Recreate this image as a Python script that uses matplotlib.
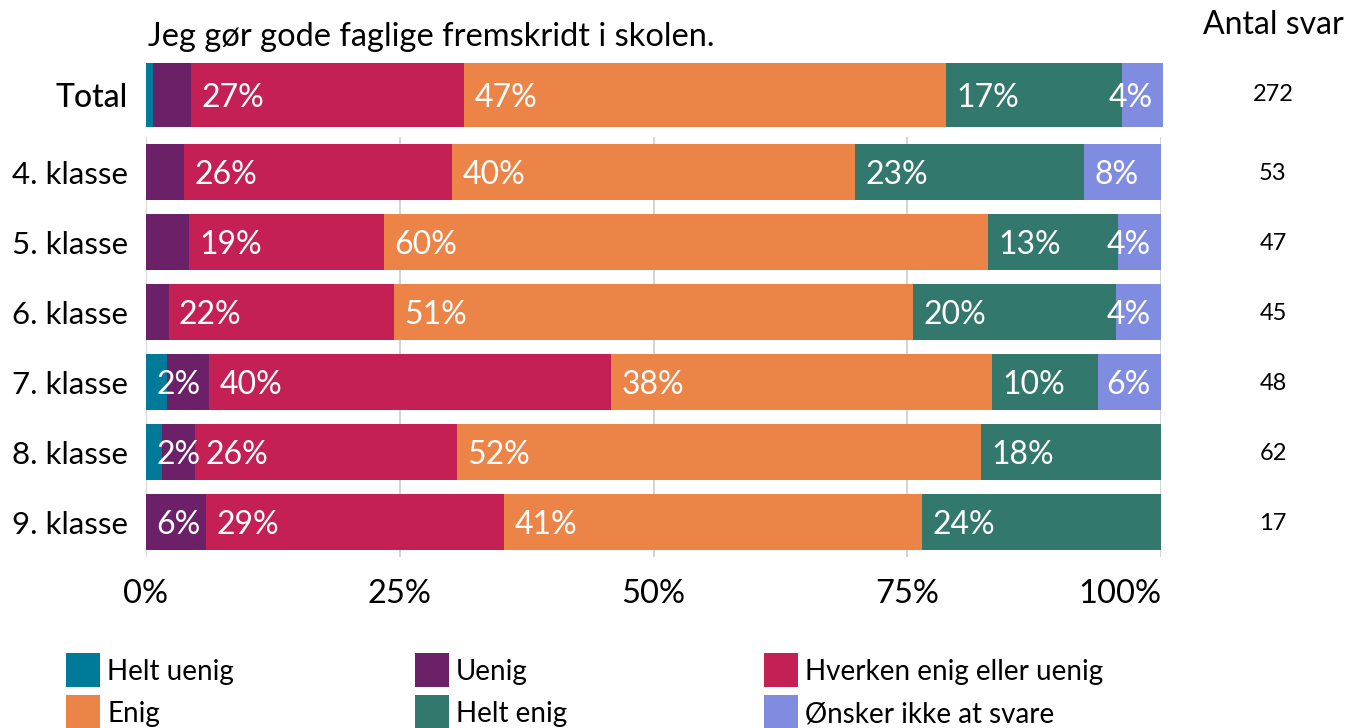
import numpy as np
import matplotlib
matplotlib.use("Agg")
import matplotlib.pyplot as plt
import matplotlib.transforms as mtransforms
from matplotlib.patches import Rectangle

plt.rcParams["font.family"] = ["Lato", "DejaVu Sans"]

# --- data -------------------------------------------------------------
title = "Jeg gør gode faglige fremskridt i skolen."
classes = ["4. klasse", "5. klasse", "6. klasse", "7. klasse", "8. klasse", "9. klasse"]
responses = ["Helt uenig", "Uenig", "Hverken enig eller uenig",
             "Enig", "Helt enig", "Ønsker ikke at svare"]
colors = ["#007A99", "#6B2067", "#C42054", "#EB8446", "#33786C", "#7F8CE0"]

# number of answers per class for each response option
helt_uenig = [0, 0, 0, 1, 1, 0]
uenig      = [2, 2, 1, 2, 2, 1]
hverken    = [14, 9, 10, 19, 16, 5]
enig       = [21, 28, 23, 18, 32, 7]
helt_enig  = [12, 6, 9, 5, 11, 4]
onsker     = [4, 2, 2, 3, 0, 0]

x_ticks = [0, 25, 50, 75, 100]
x_ticklabels = ["0%", "25%", "50%", "75%", "100%"]

counts = np.array([helt_uenig, uenig, hverken, enig, helt_enig, onsker], dtype=float)
class_n = counts.sum(axis=0)
class_pct = counts / class_n * 100
total_counts = counts.sum(axis=1)
total_n = total_counts.sum()
total_pct = total_counts / total_n * 100

# --- figure -----------------------------------------------------------
W, H = 1347, 728
fig = plt.figure(figsize=(W / 100, H / 100), dpi=100)


def fig_box(x0, y0, x1, y1):
    """Pixel box (top-left origin) -> figure fraction rect."""
    return [x0 / W, 1 - y1 / H, (x1 - x0) / W, (y1 - y0) / H]


ax_tot = fig.add_axes(fig_box(146, 63, 1163, 127))
ax = fig.add_axes(fig_box(146, 137, 1161, 557))

LABEL_FS = 23
label_texts = []  # list of rows, each a list of Text objects


def draw_row(axis, y, pcts, height):
    left = 0.0
    row = []
    off = mtransforms.offset_copy(axis.transData, fig=fig, x=7.5, y=0, units="points")
    for p, c in zip(pcts, colors):
        if p > 0:
            axis.barh(y, p, left=left, height=height, color=c, linewidth=0)
            t = axis.text(left, y, f"{p:.0f}%", transform=off, color="white",
                          fontsize=LABEL_FS, ha="left", va="center_baseline")
            row.append(t)
        left += p
    label_texts.append((axis, row))


# Total row
draw_row(ax_tot, 0, total_pct, 1.0)
ax_tot.set_xlim(0, 100)
ax_tot.set_ylim(-0.5, 0.5)
ax_tot.set_yticks([0])
ax_tot.set_yticklabels(["Total"], fontsize=23, fontweight="medium")
ax_tot.set_xticks([])
ax_tot.tick_params(axis="y", length=0, pad=13)
for s in ax_tot.spines.values():
    s.set_visible(False)

# Class rows
ypos = np.arange(len(classes))
for i in range(len(classes)):
    draw_row(ax, ypos[i], class_pct[:, i], 0.8)
ax.set_xlim(0, 100)
ax.set_ylim(len(classes) - 0.5, -0.5)
ax.set_yticks(ypos)
ax.set_yticklabels(classes, fontsize=22.5)
ax.set_xticks(x_ticks)
ax.set_xticklabels(x_ticklabels, fontsize=23.5)
ax.get_xticklabels()[-1].set_horizontalalignment("right")
ax.tick_params(axis="y", length=0, pad=13)
ax.tick_params(axis="x", length=0, pad=16)
ax.grid(axis="x", color="#CCCCCC", linewidth=1.2)
ax.set_axisbelow(True)
for s in ax.spines.values():
    s.set_visible(False)

# Number of answers column
fig.text(1273 / W, 1 - 25 / H, "Antal svar", fontsize=23, ha="center", va="center")
tr_tot = mtransforms.blended_transform_factory(fig.transFigure, ax_tot.transData)
ax_tot.text(1273 / W, 0.04, f"{int(total_n)}", transform=tr_tot, fontsize=17,
            ha="center", va="center_baseline", clip_on=False)
tr = mtransforms.blended_transform_factory(fig.transFigure, ax.transData)
for i, n in enumerate(class_n):
    ax.text(1273 / W, ypos[i], f"{int(n)}", transform=tr, fontsize=17,
            ha="center", va="center_baseline", clip_on=False)

# Title
fig.text(148 / W, 1 - 37 / H, title, fontsize=23.5, ha="left", va="center")

# Legend
leg_cols = [66, 415, 764]
leg_rows = [653, 695]
for k, (name, c) in enumerate(zip(responses, colors)):
    x0 = leg_cols[k % 3]
    y0 = leg_rows[k // 3]
    fig.add_artist(Rectangle((x0 / W, 1 - (y0 + 34) / H), 34 / W, 34 / H,
                             transform=fig.transFigure, color=c, linewidth=0))
    fig.text((x0 + 41) / W, 1 - (y0 + 19) / H, name, fontsize=20,
             ha="left", va="center")

# Keep value labels inside the bars and drop those that would collide
fig.canvas.draw()
renderer = fig.canvas.get_renderer()
for axis, row in label_texts:
    x_right = axis.transData.transform((100, 0))[0] - 10
    px_per_unit = (axis.transData.transform((100, 0))[0]
                   - axis.transData.transform((0, 0))[0]) / 100
    for t in row:
        bb = t.get_window_extent(renderer)
        if bb.x1 > x_right:
            x, y = t.get_position()
            t.set_position((x - (bb.x1 - x_right) / px_per_unit, y))
    next_left = np.inf
    for t in reversed(row):
        bb = t.get_window_extent(renderer)
        if bb.x1 + 3 > next_left:
            t.set_visible(False)
        else:
            next_left = bb.x0

fig.savefig("out.png", dpi=100)
